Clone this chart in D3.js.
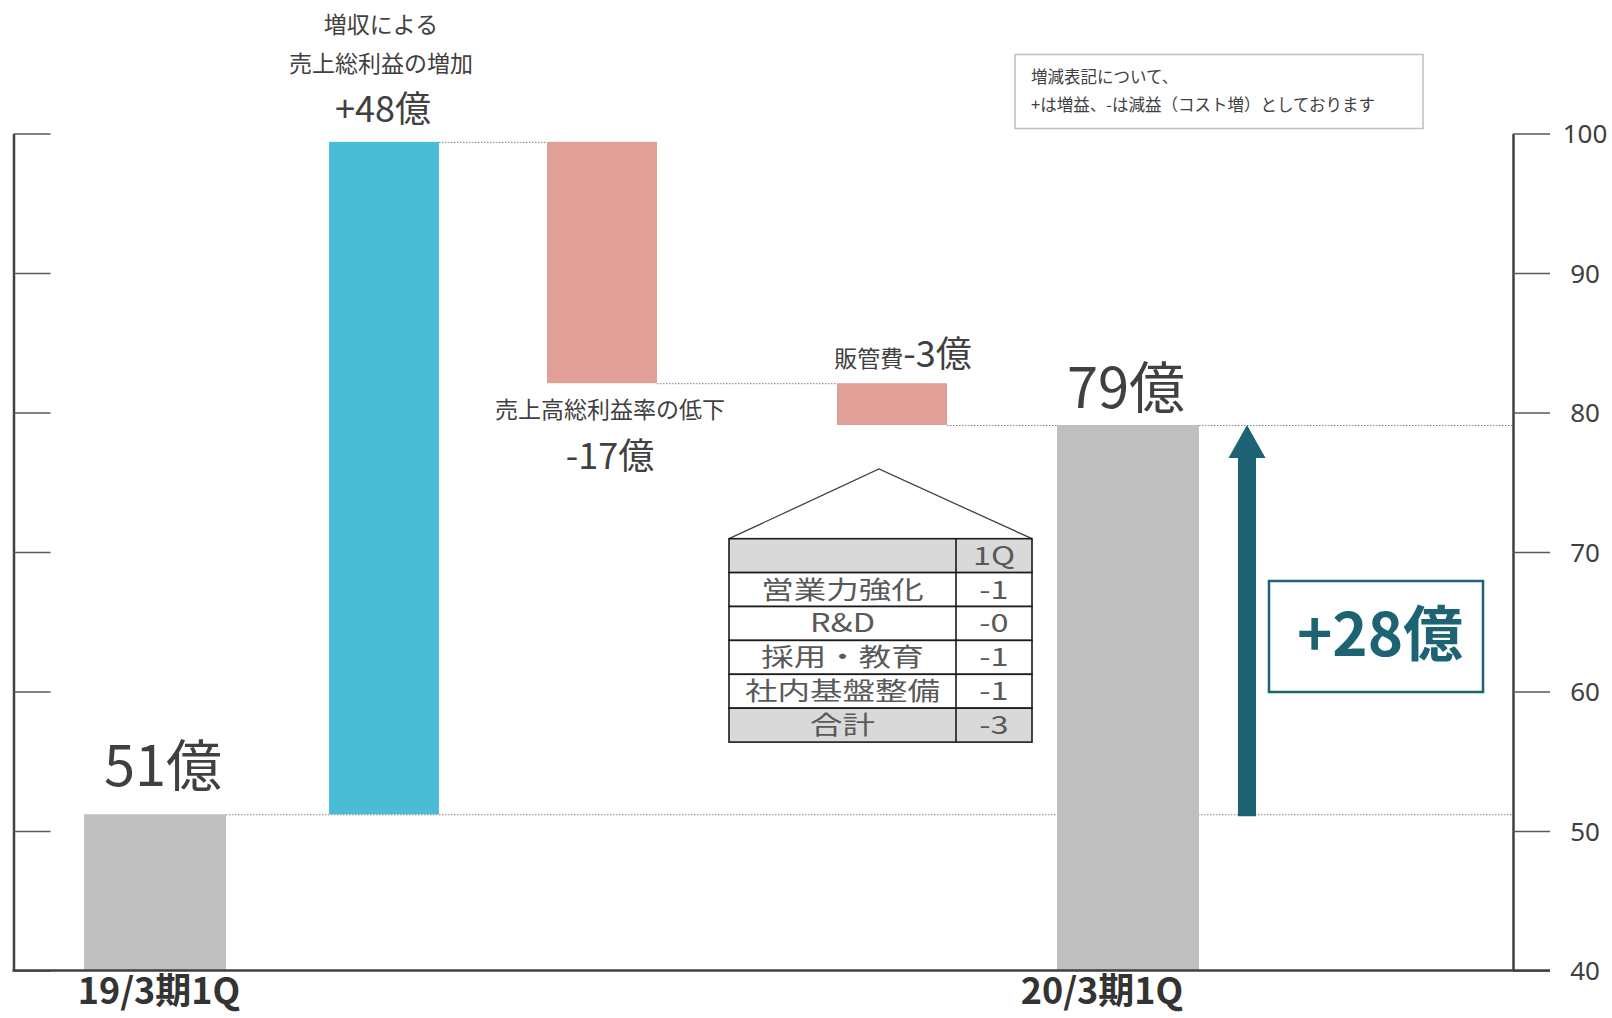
<!DOCTYPE html>
<html>
<head>
<meta charset="utf-8">
<script src="https://cdn.jsdelivr.net/npm/d3@7"></script>
<style>
  body { margin: 0; background: #fff; }
  svg { display: block; font-family: "Noto Sans CJK JP", "Noto Sans", sans-serif; }
</style>
</head>
<body>
<div id="chart"></div>
<script>
// --- data ---
var categories = ["19/3期1Q", "増収", "粗利率", "販管費", "20/3期1Q"];
var startValue = 51.2;
var deltas = [48.2, -17.3, -3.0];
var endValue = 79.1;
var yTicks = [40, 50, 60, 70, 80, 90, 100];

var tableHeader = ["", "1Q"];
var tableItems = ["営業力強化", "R&D", "採用・教育", "社内基盤整備"];
var tableValues = ["-1", "-0", "-1", "-1"];
var tableTotal = ["合計", "-3"];

var noteLines = ["増減表記について、", "+は増益、-は減益（コスト増）としております"];

var width = 1612, height = 1018;
var textColor = "#404040";
var gray = "#bfbfbf", blue = "#4bbcd6", pink = "#e0a097", teal = "#1e6373";

var svg = d3.select("#chart").append("svg")
    .attr("width", width)
    .attr("height", height);

var yScale = d3.scaleLinear()
    .domain([40, 100])
    .range([970.5, 133.5]);

// bar centres (irregular spacing as in the original slide)
var xCenter = d3.scaleOrdinal()
    .domain(categories)
    .range([155, 384, 602, 892, 1128]);

var axisLeftX = 13.5, axisRightX = 1513;

// build waterfall steps
var bars = [];
bars.push({cat: categories[0], y0: 40, y1: startValue, color: gray, w: 142});
var running = startValue;
deltas.forEach(function(d, i) {
  var next = running + d;
  bars.push({cat: categories[i + 1], y0: Math.min(running, next), y1: Math.max(running, next),
             from: running, to: next, color: d > 0 ? blue : pink, w: 110});
  running = next;
});
bars.push({cat: categories[4], y0: 40, y1: endValue, color: gray, w: 142});

// --- dotted connectors (behind bars) ---
var connectors = [
  {x1: xCenter(categories[0]) + 71, x2: axisRightX, v: startValue},
  {x1: xCenter(categories[1]) + 55, x2: xCenter(categories[2]) - 55, v: bars[1].to},
  {x1: xCenter(categories[2]) + 55, x2: xCenter(categories[3]) - 55, v: bars[2].to},
  {x1: xCenter(categories[3]) + 55, x2: axisRightX, v: bars[3].to}
];
svg.selectAll(".conn")
  .data(connectors)
  .enter()
  .append("line")
  .attr("class", "conn")
  .attr("x1", function(d) { return d.x1; })
  .attr("x2", function(d) { return d.x2; })
  .attr("y1", function(d) { return yScale(d.v) + 0.5; })
  .attr("y2", function(d) { return yScale(d.v) + 0.5; })
  .style("stroke", "#7f7f7f")
  .style("stroke-width", 1)
  .style("stroke-dasharray", "1.5,1.5");

// --- bars ---
svg.selectAll(".bar")
  .data(bars)
  .enter()
  .append("rect")
  .attr("class", "bar")
  .attr("x", function(d) { return xCenter(d.cat) - d.w / 2; })
  .attr("width", function(d) { return d.w; })
  .attr("y", function(d) { return yScale(d.y1); })
  .attr("height", function(d) { return yScale(d.y0) - yScale(d.y1); })
  .style("fill", function(d) { return d.color; });

// --- axes ---
var leftAxis = d3.axisRight(yScale).tickValues(yTicks).tickSize(37).tickSizeOuter(0).tickFormat("");
svg.append("g")
  .attr("class", "y axis left")
  .attr("transform", "translate(" + axisLeftX + ",0)")
  .call(leftAxis);

var rightAxis = d3.axisRight(yScale).tickValues(yTicks).tickSize(37).tickSizeOuter(0);
svg.append("g")
  .attr("class", "y axis right")
  .attr("transform", "translate(" + axisRightX + ",0)")
  .call(rightAxis);

svg.selectAll(".y.axis .domain")
  .style("stroke", textColor)
  .style("stroke-width", 2.5);
svg.selectAll(".y.axis .tick line")
  .style("stroke", "#595959")
  .style("stroke-width", 1.6);
svg.select(".y.axis.right").selectAll("text")
  .attr("x", 72)
  .attr("dy", "0.36em")
  .style("text-anchor", "middle")
  .style("font-size", "26px")
  .style("fill", textColor)
  .style("font-family", "'Noto Sans', sans-serif");

// baseline
svg.append("line")
  .attr("x1", axisLeftX - 1)
  .attr("x2", axisRightX + 37)
  .attr("y1", yScale(40))
  .attr("y2", yScale(40))
  .style("stroke", textColor)
  .style("stroke-width", 2.5);

// --- category labels at bottom ---
svg.append("text")
  .attr("x", xCenter(categories[0]) + 4)
  .attr("y", 1004)
  .attr("text-anchor", "middle")
  .text(categories[0])
  .style("font-size", "36px")
  .style("font-weight", "bold")
  .style("fill", "#333");

svg.append("text")
  .attr("x", xCenter(categories[4]) - 26)
  .attr("y", 1004)
  .attr("text-anchor", "middle")
  .text(categories[4])
  .style("font-size", "36px")
  .style("font-weight", "bold")
  .style("fill", "#333");

// --- value labels ---
function label(x, y, txt, size, anchor) {
  return svg.append("text")
    .attr("x", x)
    .attr("y", y)
    .attr("text-anchor", anchor || "middle")
    .text(txt)
    .style("font-size", size + "px")
    .style("fill", textColor);
}

label(xCenter(categories[0]) + 8, yScale(startValue) - 28, Math.round(startValue) + "億", 56);
label(xCenter(categories[4]) - 2, yScale(endValue) - 17, Math.round(endValue) + "億", 56);

label(xCenter(categories[1]) - 3, yScale(bars[1].to) - 109, "増収による", 23);
label(xCenter(categories[1]) - 3, yScale(bars[1].to) - 70, "売上総利益の増加", 23);
label(xCenter(categories[1]) - 1, yScale(bars[1].to) - 20, "+" + Math.round(deltas[0]) + "億", 36);

label(xCenter(categories[2]) + 8, yScale(bars[2].to) + 35, "売上高総利益率の低下", 23);
label(xCenter(categories[2]) + 8, yScale(bars[2].to) + 86, Math.round(deltas[1]) + "億", 36);

var sga = svg.append("text")
  .attr("x", xCenter(categories[3]) + 11)
  .attr("y", yScale(bars[3].from) - 16)
  .attr("text-anchor", "middle")
  .style("fill", textColor);
sga.append("tspan").text("販管費").style("font-size", "23px");
sga.append("tspan").text(Math.round(deltas[2]) + "億").style("font-size", "36px");

// --- note box ---
svg.append("rect")
  .attr("x", 1015)
  .attr("y", 54.5)
  .attr("width", 408)
  .attr("height", 74)
  .style("fill", "#fff")
  .style("stroke", "#bfbfbf")
  .style("stroke-width", 1.5);

svg.selectAll(".note")
  .data(noteLines)
  .enter()
  .append("text")
  .attr("class", "note")
  .attr("x", 1031)
  .attr("y", function(d, i) { return 83 + i * 28; })
  .text(function(d) { return d; })
  .style("font-size", "16.5px")
  .style("fill", textColor);

// --- total arrow ---
var arrowX = 1247, shaftW = 18, headW = 37, headH = 33;
var yA = yScale(startValue) + 2, yB = yScale(endValue);
svg.append("path")
  .attr("d", "M" + (arrowX - shaftW / 2) + "," + yA +
             "L" + (arrowX - shaftW / 2) + "," + (yB + headH) +
             "L" + (arrowX - headW / 2) + "," + (yB + headH) +
             "L" + arrowX + "," + yB +
             "L" + (arrowX + headW / 2) + "," + (yB + headH) +
             "L" + (arrowX + shaftW / 2) + "," + (yB + headH) +
             "L" + (arrowX + shaftW / 2) + "," + yA + "Z")
  .style("fill", teal);

svg.append("rect")
  .attr("x", 1269)
  .attr("y", 581)
  .attr("width", 214)
  .attr("height", 111)
  .style("fill", "#fff")
  .style("stroke", teal)
  .style("stroke-width", 2.5);

svg.append("text")
  .attr("x", 1380)
  .attr("y", 656)
  .attr("text-anchor", "middle")
  .text("+" + Math.round(endValue - startValue) + "億")
  .style("font-size", "60px")
  .style("font-weight", "bold")
  .style("fill", teal);

// --- SG&A breakdown table ---
var tblX = 729, tblW = 303, col1W = 227, rowH = 33.9, tblY = 538.7;
var rows = [tableHeader].concat(tableItems.map(function(d, i) { return [d, tableValues[i]]; })).concat([tableTotal]);

svg.append("path")
  .attr("d", "M" + tblX + "," + tblY + "L" + 879 + "," + 469 + "L" + (tblX + tblW) + "," + tblY)
  .style("fill", "none")
  .style("stroke", "#404040")
  .style("stroke-width", 1.3);

var rowG = svg.selectAll(".trow")
  .data(rows)
  .enter()
  .append("g")
  .attr("class", "trow")
  .attr("transform", function(d, i) { return "translate(" + tblX + "," + (tblY + i * rowH) + ")"; });

rowG.append("rect")
  .attr("width", tblW)
  .attr("height", rowH)
  .style("fill", function(d, i) { return (i === 0 || i === rows.length - 1) ? "#d9d9d9" : "#fff"; })
  .style("stroke", "#1a1a1a")
  .style("stroke-width", 1.6);

rowG.append("line")
  .attr("x1", col1W).attr("x2", col1W)
  .attr("y1", 0).attr("y2", rowH)
  .style("stroke", "#1a1a1a")
  .style("stroke-width", 1.6);

rowG.append("text")
  .attr("transform", "translate(" + (col1W / 2) + "," + (rowH / 2 + 9) + ") scale(1.3,1)")
  .attr("text-anchor", "middle")
  .text(function(d) { return d[0]; })
  .style("font-size", "25px")
  .style("fill", "#595959");

rowG.append("text")
  .attr("transform", "translate(" + (col1W + (tblW - col1W) / 2) + "," + (rowH / 2 + 9) + ") scale(1.3,1)")
  .attr("text-anchor", "middle")
  .text(function(d) { return d[1]; })
  .style("font-size", "25px")
  .style("fill", "#595959");
</script>
</body>
</html>
